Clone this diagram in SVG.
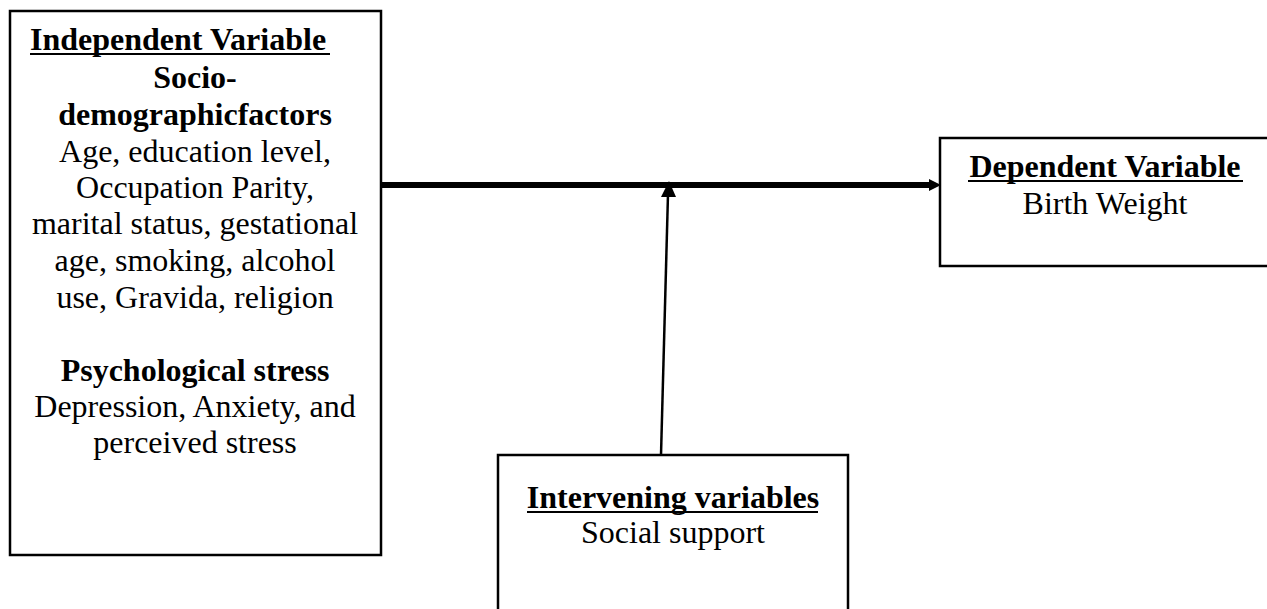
<svg xmlns="http://www.w3.org/2000/svg" width="1267" height="609" viewBox="0 0 1267 609">
<style>
.box{fill:#fff;stroke:#000;stroke-width:2.5}
.t{font-family:"Liberation Serif","Times New Roman",serif;font-size:32px;fill:#000;text-anchor:middle}
.b{font-weight:bold}
.u{stroke:#000;stroke-width:2}
</style>
<rect width="1267" height="609" fill="#fff"/>
<g id="connectors">
<line x1="382" y1="185" x2="932" y2="185" stroke="#000" stroke-width="6"/>
<polygon points="929,179 941,185 929,191" fill="#000"/>
<line x1="661" y1="455" x2="668" y2="194" stroke="#000" stroke-width="2.5"/>
<polygon points="669,181 676,197 661,197" fill="#000"/>
</g>
<g id="independent">
<rect class="box" x="10" y="11" width="371" height="544"/>
<text class="t b" x="30" y="50" style="text-anchor:start">Independent Variable</text>
<line class="u" x1="30" y1="54" x2="330" y2="54"/>
<text class="t b" x="195" y="88">Socio-</text>
<text class="t b" x="195" y="125">demographicfactors</text>
<text class="t" x="195" y="162">Age, education level,</text>
<text class="t" x="195" y="198">Occupation Parity,</text>
<text class="t" x="195" y="234">marital status, gestational</text>
<text class="t" x="195" y="271">age, smoking, alcohol</text>
<text class="t" x="195" y="308">use, Gravida, religion</text>
<text class="t b" x="195" y="381">Psychological stress</text>
<text class="t" x="195" y="417">Depression, Anxiety, and</text>
<text class="t" x="195" y="453">perceived stress</text>
</g>
<g id="dependent">
<rect class="box" x="940" y="138" width="340" height="128"/>
<text class="t b" x="1105" y="177">Dependent Variable</text>
<line class="u" x1="968" y1="181" x2="1243" y2="181"/>
<text class="t" x="1105" y="214">Birth Weight</text>
</g>
<g id="intervening">
<rect class="box" x="498" y="455" width="350" height="170"/>
<text class="t b" x="673" y="508">Intervening variables</text>
<line class="u" x1="527" y1="512" x2="818" y2="512"/>
<text class="t" x="673" y="543">Social support</text>
</g>
</svg>
